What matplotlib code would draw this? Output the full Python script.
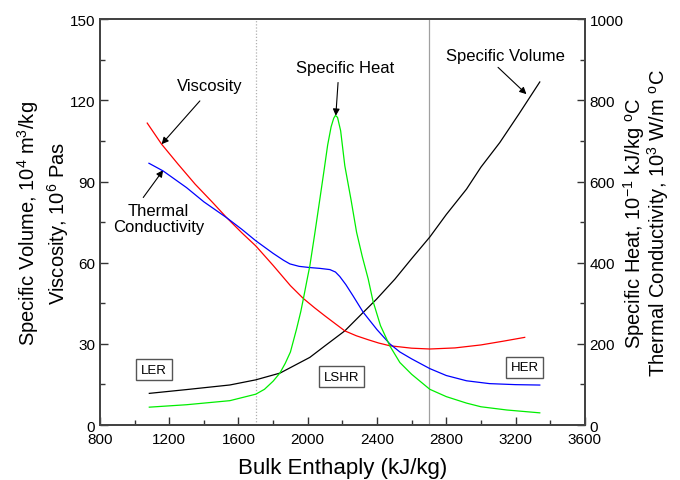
import numpy as np
import matplotlib
matplotlib.use("Agg")
import matplotlib.pyplot as plt

plt.rcParams['font.family'] = ['Liberation Sans', 'DejaVu Sans']
plt.rcParams['mathtext.fontset'] = 'custom'
plt.rcParams['mathtext.rm'] = 'Liberation Sans'
plt.rcParams['mathtext.it'] = 'Liberation Sans'

# specific volume (left axis)
sv_x = [1085, 1300, 1550, 1700, 1840, 2012, 2100, 2214, 2320, 2397, 2503, 2600,
        2705, 2800, 2917, 3000, 3109, 3220, 3340]
sv_y = [11.7, 13.1, 14.8, 16.7, 19.2, 25.0, 29.3, 34.8, 41.6, 46.5, 53.9, 61.5,
        69.5, 77.8, 87.2, 95.3, 104.4, 115.0, 126.8]

# viscosity (left axis)
visc_x = [1073, 1156, 1250, 1350, 1450, 1531, 1620, 1700, 1800, 1900, 1974, 2040,
          2100, 2160, 2214, 2280, 2350, 2410, 2474, 2600, 2705, 2850, 3000, 3130, 3253]
visc_y = [111.6, 103.8, 96.5, 89.0, 82.3, 76.7, 71.0, 66.2, 59.0, 51.5, 46.8, 43.3,
          40.3, 37.4, 34.8, 33.0, 31.5, 30.3, 29.3, 28.4, 28.1, 28.5, 29.6, 31.0, 32.4]

# thermal conductivity (right axis)
tc_x = [1083, 1165, 1300, 1400, 1531, 1620, 1700, 1800, 1860, 1897, 1950, 2012,
        2070, 2128, 2160, 2185, 2220, 2262, 2320, 2400, 2474, 2532, 2600, 2705,
        2800, 2917, 3050, 3200, 3340]
tc_y = [645, 626, 585, 550, 511, 482, 454, 423, 406, 397, 391, 388,
        386, 383, 377, 366, 346, 318, 278, 235, 200, 180, 163, 139,
        122, 109, 102, 99.5, 98.5]

# specific heat (right axis)
cp_x = [1085, 1300, 1550, 1700, 1750, 1800, 1839, 1870, 1900, 1935, 1960, 1977,
        1997, 2012, 2040, 2070, 2095, 2115, 2135, 2150, 2160, 2172, 2190, 2214,
        2250, 2282, 2315, 2349, 2377, 2420, 2474, 2532, 2600, 2705, 2800, 2917,
        3000, 3150, 3340]
cp_y = [44, 50, 60, 76, 88, 108, 128, 152, 180, 236, 280, 316,
        360, 392, 470, 557, 630, 690, 735, 756, 763, 758, 725, 639,
        555, 475, 415, 360, 305, 245, 195, 154, 125, 88, 70, 54,
        45, 37, 30]

region_x = [1700, 2700]

fig, ax = plt.subplots(figsize=(6.8, 4.81), dpi=100)
fig.subplots_adjust(left=0.147, right=0.860, bottom=0.1143, top=0.958)
ax2 = ax.twinx()

ax.axvline(region_x[0], color='#b0b0b0', lw=0.9, ls=(0, (1, 1.5)), zorder=1)
ax.axvline(region_x[1], color='#a0a0a0', lw=0.9, zorder=1)

ax.plot(sv_x, sv_y, color='black', lw=0.9)
ax.plot(visc_x, visc_y, color='red', lw=0.9)
ax2.plot(tc_x, tc_y, color='blue', lw=0.9)
ax2.plot(cp_x, cp_y, color='#00ee00', lw=0.9)

ax.set_xlim(800, 3600)
ax.set_ylim(0, 150)
ax2.set_ylim(0, 1000)
ax.set_xticks(np.arange(800, 3601, 400))
ax.set_xticks(np.arange(800, 3601, 200), minor=True)
ax.set_yticks(np.arange(0, 151, 30))
ax.set_yticks(np.arange(0, 151, 15), minor=True)
ax2.set_yticks(np.arange(0, 1001, 200))
ax2.set_yticks(np.arange(0, 1001, 100), minor=True)

for a in (ax, ax2):
    a.tick_params(which='both', direction='in', labelsize=11, colors='#333333',
                  labelcolor='black')
    a.tick_params(which='major', length=6, width=1)
    a.tick_params(which='minor', length=3.5, width=1)
    for s in a.spines.values():
        s.set_linewidth(1.4)
        s.set_color('#444444')
ax.tick_params(axis='x', pad=5)
ax.tick_params(top=False, which='both')

ax.set_xlabel('Bulk Enthaply (kJ/kg)', fontsize=16, labelpad=8)
ax.set_ylabel('Specific Volume, 10$^4$ m$^3$/kg\nViscosity, 10$^6$ Pas',
              fontsize=14.5, labelpad=-1, linespacing=1.2)
ax2.set_ylabel('Specific Heat, 10$^{-1}$ kJ/kg $^o$C\nThermal Conductivity, 10$^3$ W/m $^o$C',
               fontsize=14.5, labelpad=-2, linespacing=0.92)

arrow = dict(arrowstyle='-|>', color='black', lw=0.8, mutation_scale=10,
             shrinkA=0, shrinkB=0)
ax.annotate('', xy=(1156, 103.8), xytext=(1377, 119.8), arrowprops=arrow)
ax.text(1435, 125.6, 'Viscosity', fontsize=12, ha='center', va='center')
ax.annotate('', xy=(1165, 94.2), xytext=(1050, 84.1), arrowprops=arrow)
ax.text(1138, 76.3, 'Thermal\nConductivity', fontsize=12, ha='center',
        va='center', linespacing=1.1)
ax.annotate('', xy=(2162, 114.3), xytext=(2175, 126.6), arrowprops=arrow)
ax.text(2214, 132.2, 'Specific Heat', fontsize=12, ha='center', va='center')
ax.annotate('', xy=(3263, 122.3), xytext=(3099, 132.2), arrowprops=arrow)
ax.text(3142, 136.4, 'Specific Volume', fontsize=12, ha='center', va='center')

box = dict(boxstyle='square,pad=0.35', fc='white', ec='#555555', lw=1.0)
ax.text(1112, 20.4, 'LER', fontsize=9.5, ha='center', va='center', bbox=box)
ax.text(2195, 17.9, 'LSHR', fontsize=9.5, ha='center', va='center', bbox=box)
ax.text(3253, 21.4, 'HER', fontsize=9.5, ha='center', va='center', bbox=box)

fig.savefig('out.png', dpi=100)
